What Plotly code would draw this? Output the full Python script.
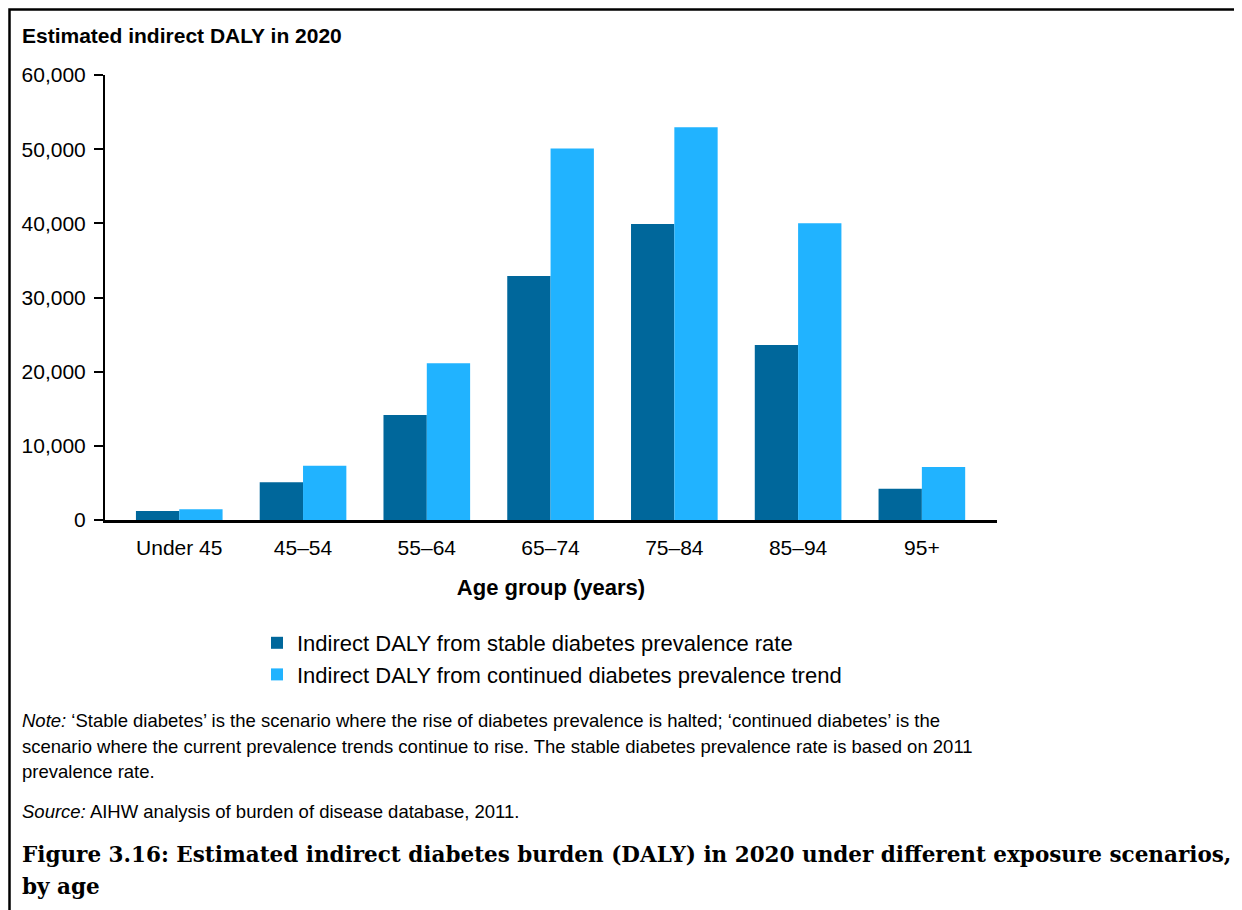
import plotly.graph_objects as go

categories = ["Under 45", "45–54", "55–64", "65–74", "75–84", "85–94", "95+"]
stable = [1200, 5100, 14150, 32900, 39900, 23600, 4200]
continued = [1450, 7300, 21150, 50100, 52950, 40000, 7150]
series_names = ["Indirect DALY from stable diabetes prevalence rate",
                "Indirect DALY from continued diabetes prevalence trend"]
y_ticks = [0, 10000, 20000, 30000, 40000, 50000, 60000]

DARK = "#00679B"
LIGHT = "#21B3FF"
SANS = "Liberation Sans, Arial, sans-serif"
SERIF = "DejaVu Serif, serif"

OFF = 8  # page body margin
W, H = 1242 - OFF, 910 - OFF
# plot area in page pixels
PL, PR, PT, PB = 105, 997, 75, 520
L, R, T, B = PL - OFF, PR - OFF, PT - OFF, PB - OFF


def px(x):
    return (x - PL) / (PR - PL)


def py(y):
    return (PB - y) / (PB - PT)


fig = go.Figure()
fig.add_trace(go.Bar(x=categories, y=stable, name=series_names[0],
                     marker=dict(color=DARK, line=dict(width=0))))
fig.add_trace(go.Bar(x=categories, y=continued, name=series_names[1],
                     marker=dict(color=LIGHT, line=dict(width=0))))

NOTE_SIZE = 18.5
annotations = [
    dict(text="<b>Estimated indirect DALY in 2020</b>", x=px(20), y=py(35),
         font=dict(size=21, family=SANS, color="black")),
    dict(text="<i>Note:</i> ‘Stable diabetes’ is the scenario where the rise of diabetes prevalence is halted; ‘continued diabetes’ is the",
         x=px(20), y=py(720), font=dict(size=NOTE_SIZE, family=SANS, color="black")),
    dict(text="scenario where the current prevalence trends continue to rise. The stable diabetes prevalence rate is based on 2011",
         x=px(20), y=py(746), font=dict(size=NOTE_SIZE, family=SANS, color="black")),
    dict(text="prevalence rate.", x=px(20), y=py(771),
         font=dict(size=NOTE_SIZE, family=SANS, color="black")),
    dict(text="<i>Source:</i> AIHW analysis of burden of disease database, 2011.",
         x=px(20), y=py(811), font=dict(size=NOTE_SIZE, family=SANS, color="black")),
    dict(text="<b>Figure 3.16: Estimated indirect diabetes burden (DALY) in 2020 under different exposure scenarios,</b>",
         x=px(20), y=py(855), font=dict(size=21.5, family=SERIF, color="black")),
    dict(text="<b>by age</b>", x=px(20), y=py(886),
         font=dict(size=21.5, family=SERIF, color="black")),
]
for a in annotations:
    a.update(xref="paper", yref="paper", xanchor="left", yanchor="middle", showarrow=False)

fig.update_layout(
    width=W, height=H, autosize=False,
    margin=dict(l=L, r=W - R, t=T, b=H - B, pad=0),
    paper_bgcolor="white", plot_bgcolor="white",
    barmode="group", bargap=0.3, bargroupgap=0,
    font=dict(family=SANS, color="black", size=20),
    showlegend=True,
    legend=dict(x=px(257), y=py(622), xanchor="left", yanchor="top",
                font=dict(size=22, family=SANS, color="black"),
                traceorder="normal", bgcolor="rgba(0,0,0,0)"),
    annotations=annotations,
    shapes=[dict(type="rect", xref="paper", yref="paper",
                 x0=px(9.5), x1=px(1240), y0=py(9.5), y1=py(920),
                 line=dict(color="black", width=2.5), fillcolor="rgba(0,0,0,0)")],
    xaxis=dict(type="category", range=[-0.6, 6.607], showline=True, linecolor="black",
               linewidth=2.5, ticks="", showgrid=False, zeroline=False,
               tickfont=dict(size=21, family=SANS), ticklabelstandoff=7,
               title=dict(text="<b>Age group (years)</b>", font=dict(size=22, family=SANS),
                          standoff=22)),
    yaxis=dict(range=[0, 60000], tickvals=y_ticks, tickformat=",", showline=True,
               linecolor="black", linewidth=2, ticks="outside", ticklen=9, tickwidth=2,
               tickcolor="black", showgrid=False, zeroline=False,
               tickfont=dict(size=21, family=SANS), ticklabelstandoff=4),
)

fig.write_html("out.html")
